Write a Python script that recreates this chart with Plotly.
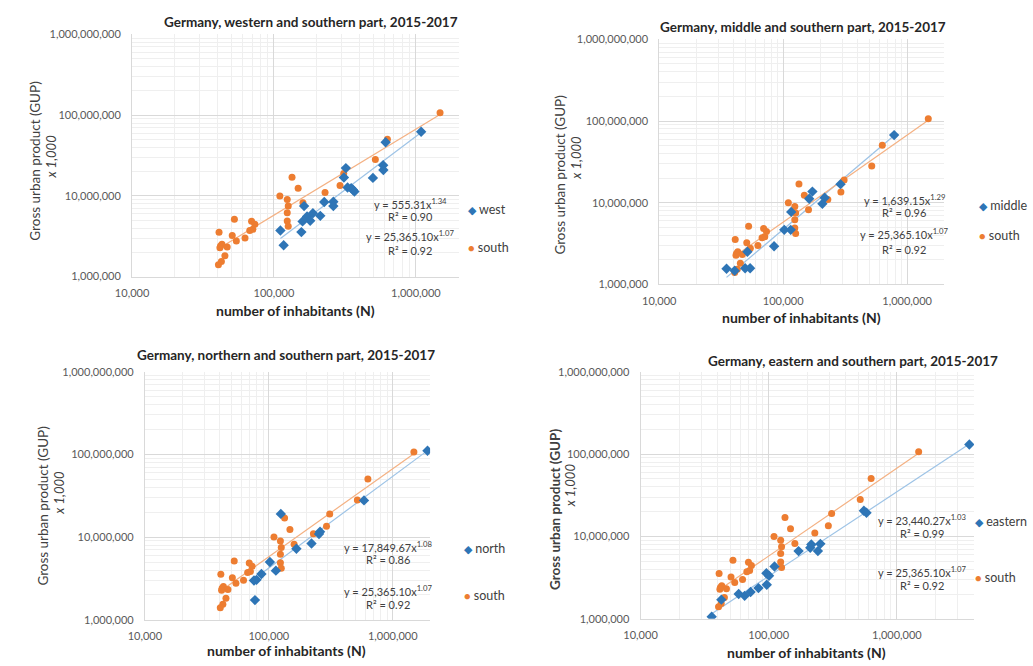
import numpy as np
import plotly.graph_objects as go

W, H = 1033, 666
FONT = "Lato"
BLUE = "#2E75B6"
ORANGE = "#ED7D31"
BLUE_LINE = "#9DC3E6"
ORANGE_LINE = "#F4B183"

# Southern cities (shared comparison series): inhabitants and GUP (x 1,000)
south_n = [1480000, 630000, 518000, 310000, 292000, 229000, 134000, 148000, 110000,
           124000, 160000, 126000, 124000, 124000, 126000, 52600, 69500, 73300, 71000,
           67500, 41000, 50800, 62500, 54300, 42000, 43000, 46800, 41600, 45100, 42600,
           40600]
south_gup = [107000000, 50500000, 28200000, 19000000, 13500000, 11000000, 17000000,
             12400000, 10000000, 9000000, 8200000, 7500000, 6200000, 4900000, 4200000,
             5150000, 4850000, 4450000, 3850000, 3720000, 3550000, 3230000, 3000000,
             2770000, 2400000, 2520000, 2320000, 2280000, 1820000, 1540000, 1400000]

# Western cities
west_n = [1089000, 612000, 588000, 590000, 498000, 321000, 311000, 330000, 350000,
          360000, 369000, 262000, 262000, 226000, 212000, 188000, 171000, 180000,
          159000, 163000, 156000, 111000, 117000]
west_gup = [62200000, 46100000, 24000000, 20900000, 16700000, 22100000, 16900000,
            12700000, 12500000, 11900000, 11300000, 8460000, 7480000, 8400000, 5660000,
            6100000, 5560000, 4920000, 4830000, 7480000, 3560000, 3720000, 2450000]

# Middle cities
middle_n = [785000, 290000, 216000, 207000, 172000, 162000, 116000, 115000, 102000,
            84400, 51400, 54100, 49300, 40600, 34900]
middle_gup = [67300000, 16900000, 11500000, 9700000, 13700000, 11200000, 7730000,
              4660000, 4660000, 2940000, 2510000, 1580000, 1580000, 1470000, 1560000]

# Northern cities
north_n = [1905000, 586000, 125000, 259000, 254000, 221000, 167000, 102000, 114000,
           87200, 79600, 75900, 77300]
north_gup = [111000000, 27800000, 19100000, 11600000, 10900000, 8360000, 7220000,
             5010000, 3930000, 3580000, 3040000, 2990000, 1730000]

# Eastern cities
east_n = [3680000, 553000, 580000, 253000, 242000, 215000, 211000, 171000, 111000,
          95900, 100600, 96600, 83200, 72200, 64900, 58300, 42700, 35900]
east_gup = [131000000, 20500000, 19400000, 8130000, 6640000, 7980000, 7280000,
            6640000, 4320000, 3570000, 3340000, 2590000, 2360000, 2120000, 1900000,
            2000000, 1710000, 1060000]

# Titles and trendline labels
titles = ["Germany, western and southern part, 2015-2017",
          "Germany, middle and southern part, 2015-2017",
          "Germany, northern and southern part, 2015-2017",
          "Germany, eastern and southern part, 2015-2017"]
region_names = ["west", "middle", "north", "eastern"]
region_eq = ["y = 555.31x<sup>1.34</sup>", "y = 1,639.15x<sup>1.29</sup>",
             "y = 17,849.67x<sup>1.08</sup>", "y = 23,440.27x<sup>1.03</sup>"]
region_r2 = ["R² = 0.90", "R² = 0.96", "R² = 0.86", "R² = 0.99"]
south_eq = "y = 25,365.10x<sup>1.07</sup>"
south_r2 = "R² = 0.92"
x_max = [2e6, 2e6, 2e6, 4e6]
y_range = [1e6, 1e9]

regions_n = [west_n, middle_n, north_n, east_n]
regions_gup = [west_gup, middle_gup, north_gup, east_gup]

# Panel layout in pixels: plot box (left, right, top, bottom)
boxes = [(117, 449, 28, 275), (653, 943, 33, 283), (130, 420, 372, 625), (634, 973, 372, 624)]
title_pos = [(299, 15), (799, 20), (273, 355), (850, 361)]
xtitle_pos = [(283, 310), (798, 317), (274, 656), (803, 658)]
ytitle_pos = [(18, 157, 35, 152), (552, 171, 568, 154), (27, 509, 43, 495), (547, 512, 563, 488)]
ytitle_bold = [False, False, False, True]
eq_pos = [(400, 200, 214, 233, 248), (902, 196, 210, 231, 247),
          (377, 550, 564, 595, 609), (920, 523, 537, 576, 590)]
legend_pos = [(457, 207, 245), (976, 202, 233), (452, 552, 600), (972, 525, 582)]


def px(x):
    return x / W


def py(y):
    return 1 - y / H


def note(text, x, y, size, xanchor="center", angle=0, color="#404040"):
    return dict(text=text, x=px(x), y=py(y), xref="paper", yref="paper",
                xanchor=xanchor, yanchor="middle", showarrow=False, textangle=angle,
                font=dict(family=FONT, size=size, color=color))


def power_fit(xs, ys):
    lx, ly = np.log10(xs), np.log10(ys)
    b, a = np.polyfit(lx, ly, 1)
    xx = np.geomspace(min(xs), max(xs), 20)
    return xx, 10 ** (a + b * np.log10(xx))


fig = go.Figure()
annotations = []
layout_axes = {}

for i in range(4):
    k = "" if i == 0 else str(i + 1)
    xa, ya = "x" + k, "y" + k
    l, r, t, b = boxes[i]

    for xs, ys, lc in ((regions_n[i], regions_gup[i], BLUE_LINE), (south_n, south_gup, ORANGE_LINE)):
        fx, fy = power_fit(xs, ys)
        fig.add_trace(go.Scatter(x=fx, y=fy, mode="lines", xaxis=xa, yaxis=ya,
                                 line=dict(color=lc, width=1.2), showlegend=False,
                                 hoverinfo="skip"))
    fig.add_trace(go.Scatter(x=south_n, y=south_gup, mode="markers", name="south",
                             xaxis=xa, yaxis=ya, showlegend=False,
                             marker=dict(symbol="circle", size=7, color=ORANGE)))
    fig.add_trace(go.Scatter(x=regions_n[i], y=regions_gup[i], mode="markers",
                             name=region_names[i], xaxis=xa, yaxis=ya, showlegend=False,
                             marker=dict(symbol="diamond", size=8, color=BLUE)))

    common = dict(type="log", showgrid=True, gridcolor="#d9d9d9", gridwidth=1,
                  zeroline=False, showline=True, linecolor="#d9d9d9", linewidth=1,
                  ticks="", dtick=1, tickformat=",d",
                  tickfont=dict(family=FONT, size=11, color="#595959"),
                  minor=dict(dtick="D1", showgrid=True, gridcolor="#efefef", gridwidth=1))
    layout_axes["xaxis" + k] = dict(common, domain=[px(l), px(r)],
                                    range=[4, np.log10(x_max[i])], anchor=ya,
                                    ticklabelstandoff=6)
    layout_axes["yaxis" + k] = dict(common, domain=[py(b), py(t)],
                                    range=[np.log10(y_range[0]), np.log10(y_range[1])],
                                    anchor=xa, ticklabelstandoff=8)

    tx, ty = title_pos[i]
    annotations.append(note("<b>" + titles[i] + "</b>", tx, ty, 13.5, color="#262626"))
    ax_, ay_ = xtitle_pos[i]
    annotations.append(note("<b>number of inhabitants (N)</b>", ax_, ay_, 14, color="#262626"))
    gx, gy, sx, sy = ytitle_pos[i]
    gtxt = "Gross urban product (GUP)"
    if ytitle_bold[i]:
        gtxt = "<b>" + gtxt + "</b>"
    annotations.append(note(gtxt, gx, gy, 13.5, angle=-90))
    annotations.append(note("<i>x 1,000</i>", sx, sy, 13, angle=-90))

    ex, e1, e2, e3, e4 = eq_pos[i]
    for txt, yy in ((region_eq[i], e1), (region_r2[i], e2), (south_eq, e3), (south_r2, e4)):
        annotations.append(note(txt, ex, yy, 11))

    lx, l1, l2 = legend_pos[i]
    annotations.append(note('<span style="color:%s;font-size:11px">◆</span> %s' % (BLUE, region_names[i]),
                            lx, l1, 12.5, xanchor="left"))
    annotations.append(note('<span style="color:%s;font-size:11px">●</span> %s' % (ORANGE, "south"),
                            lx, l2, 12.5, xanchor="left"))

fig.update_layout(width=W, height=H, autosize=False,
                  margin=dict(l=0, r=0, t=0, b=0),
                  paper_bgcolor="white", plot_bgcolor="white",
                  showlegend=False, annotations=annotations, **layout_axes)

fig.write_html("out.html")
